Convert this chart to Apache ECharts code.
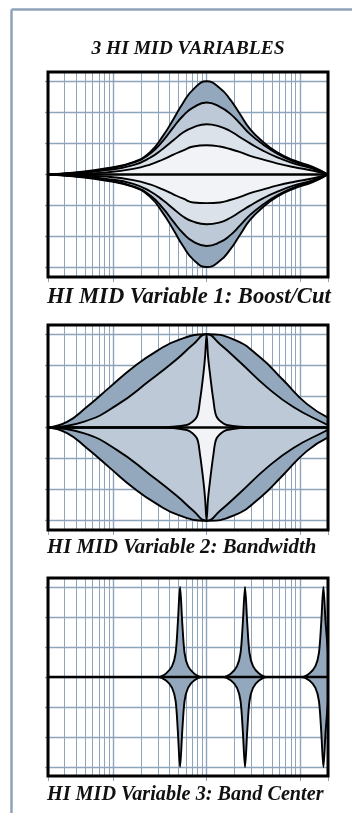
<!DOCTYPE html>
<html>
<head>
<meta charset="utf-8">
<script src="https://cdn.jsdelivr.net/npm/echarts@6/dist/echarts.min.js"></script>
<style>
  html, body { margin: 0; padding: 0; background: #fff; }
  #chart { width: 352px; height: 813px; }
</style>
</head>
<body>
<div id="chart"></div>
<script>
// ---- axis grid values ----
const MINOR_FREQS = [30, 40, 50, 60, 70, 80, 90, 200, 300, 400, 500, 600, 700, 800, 900,
  2000, 3000, 4000, 5000, 6000, 7000, 8000, 9000];
const DECADE_FREQS = [20, 100, 1000, 10000, 20000];
const DB_TICKS = [-15, -10, -5, 0, 5, 10, 15];

const TITLE = '3 HI MID VARIABLES';
const CAPTIONS = [
  'HI MID Variable 1: Boost/Cut',
  'HI MID Variable 2: Bandwidth',
  'HI MID Variable 3: Band Center'
];

// ---- panel 1: boost / cut at 1 kHz (Hz, dB) ----
const P1_FREQ = [20, 37, 85, 164, 248, 344, 441, 564, 721, 1000, 1390, 1786, 2286, 2925, 4062, 5651, 8515, 13950, 20000];
const P1_BOOST_15 = [0, 0.3, 1.0, 2.0, 3.6, 6.3, 8.9, 11.6, 13.7, 15, 13.9, 12.1, 9.7, 7.3, 5.2, 3.6, 2.3, 1.2, 0];
const P1_BOOST_11 = [0, 0.25, 0.9, 1.9, 3.35, 5.5, 7.6, 9.5, 10.8, 11.6, 10.9, 9.8, 8.2, 6.5, 4.8, 3.4, 2.1, 1.0, 0];
const P1_BOOST_8 = [0, 0.2, 0.7, 1.5, 2.7, 4.2, 5.5, 6.8, 7.6, 8.1, 7.7, 7.0, 6.0, 5.0, 3.8, 2.8, 1.8, 0.9, 0];
const P1_BOOST_4 = [0, 0.1, 0.35, 0.9, 1.6, 2.45, 3.2, 3.9, 4.5, 4.7, 4.5, 4.1, 3.6, 3.0, 2.4, 1.8, 1.2, 0.6, 0];
const P1_CUT_15 = [0, -0.3, -1.0, -2.0, -3.6, -6.3, -8.9, -11.6, -13.7, -14.9, -13.9, -12.1, -9.7, -7.3, -5.2, -3.6, -2.3, -1.2, 0];
const P1_CUT_11 = [0, -0.25, -0.9, -1.9, -3.35, -5.5, -7.6, -9.5, -10.8, -11.5, -10.9, -9.8, -8.2, -6.5, -4.8, -3.4, -2.1, -1.0, 0];
const P1_CUT_8 = [0, -0.2, -0.7, -1.5, -2.7, -4.2, -5.5, -6.8, -7.6, -8.0, -7.7, -7.0, -6.0, -5.0, -3.8, -2.8, -1.8, -0.9, 0];
const P1_CUT_4 = [0, -0.1, -0.35, -0.9, -1.6, -2.45, -3.2, -3.9, -4.5, -4.6, -4.5, -4.1, -3.6, -3.0, -2.4, -1.8, -1.2, -0.6, 0];

// ---- panel 2: bandwidth (Hz, dB) ----
const P2_WIDE_FREQ = [20, 32, 52, 92, 164, 292, 520, 1000, 1937, 3742, 6652, 11850, 20000];
const P2_WIDE_UP = [0, 0.9, 3.3, 6.5, 9.7, 12.3, 14.2, 15, 14.2, 11.3, 7.6, 3.8, 1.6];
const P2_WIDE_DOWN = [0, -0.9, -3.3, -6.5, -9.7, -12.3, -14.2, -15, -14.2, -11.3, -7.6, -3.8, -1.6];
const P2_MID_FREQ = [20, 48, 109, 248, 479, 721, 1000, 1395, 2286, 4417, 8515, 18620, 20000];
const P2_MID_UP = [0, 0.9, 3.6, 7.6, 11, 13.4, 15, 13.4, 10.5, 6.5, 3.3, 0.6, 0.4];
const P2_MID_DOWN = [0, -0.9, -3.6, -7.6, -11, -13.4, -15, -13.4, -10.5, -6.5, -3.3, -0.6, -0.4];
const P2_NARROW_FREQ = [20, 269, 614, 785, 851, 924, 965, 1000, 1036, 1089, 1183, 1285, 1645, 3700, 20000];
const P2_NARROW_UP = [0, 0, 0.4, 1.7, 4.4, 8.6, 11.5, 15, 11.5, 8.6, 4.4, 1.7, 0.4, 0, 0];
const P2_NARROW_DOWN = [0, 0, -0.4, -1.7, -4.4, -8.6, -11.5, -15, -11.5, -8.6, -4.4, -1.7, -0.4, 0, 0];

// ---- panel 3: band center sweep (Hz, dB) ----
const P3_FREQ = [20, 302, 368, 427, 466, 492, 520, 549, 581, 633, 734, 894,
  1501, 1829, 2120, 2312, 2445, 2582, 2727, 2884, 3145, 3646, 4441,
  10384, 12649, 14663, 15989, 16913, 17860, 18860, 20000];
const P3_UP = [0, 0, 0.6, 1.8, 4, 9, 15, 9, 4, 1.8, 0.6, 0,
  0, 0.6, 1.8, 4, 9, 15, 9, 4, 1.8, 0.6, 0,
  0, 0.6, 1.8, 4, 9, 15, 9, 4];
const P3_DOWN = [0, 0, -0.6, -1.8, -4, -9, -15, -9, -4, -1.8, -0.6, 0,
  0, -0.6, -1.8, -4, -9, -15, -9, -4, -1.8, -0.6, 0,
  0, -0.6, -1.8, -4, -9, -15, -9, -4];

const FLAT_FREQ = [20, 20000];
const FLAT = [0, 0];

// ---- styles ----
const GRID_COLOR = '#8ea4ba';
const FRAME_COLOR = '#8ea3b8';
const DARK = '#94a8bd';
const MID = '#bdc9d7';
const LIGHT = '#dbe2ea';
const PALE = '#f1f3f6';
const SERIF = '"Liberation Serif", "DejaVu Serif", serif';

const PANELS = [
  { top: 72, height: 205, caption: 297, font: 22.6 },
  { top: 325, height: 205, caption: 548, font: 20.8 },
  { top: 578, height: 198, caption: 795, font: 20.2 }
];
const BOX_LEFT = 48, BOX_WIDTH = 280;

const zip = (xs, ys) => xs.map((x, i) => [x, ys[i]]);

const grids = [], xAxes = [], yAxes = [], series = [];

PANELS.forEach((p, i) => {
  grids.push({ left: BOX_LEFT, top: p.top, width: BOX_WIDTH, height: p.height, containLabel: false });
  xAxes.push({
    gridIndex: i, type: 'log', logBase: 10, min: 20, max: 20000,
    axisLine: { show: false }, axisLabel: { show: false },
    axisTick: { show: false, customValues: MINOR_FREQS },
    splitLine: { show: true, lineStyle: { color: GRID_COLOR, width: 1 } }
  });
  xAxes.push({
    gridIndex: i, type: 'log', logBase: 10, min: 20, max: 20000, position: 'bottom',
    axisLine: { show: false }, axisLabel: { show: false },
    axisTick: { show: true, inside: false, length: 5, customValues: DECADE_FREQS, lineStyle: { color: GRID_COLOR, width: 1 } },
    splitLine: { show: true, lineStyle: { color: GRID_COLOR, width: 1.4 } }
  });
  yAxes.push({
    gridIndex: i, type: 'value', min: -16.5, max: 16.5,
    axisLine: { show: false }, axisLabel: { show: false },
    axisTick: { show: true, inside: false, length: 3, customValues: DB_TICKS, lineStyle: { color: GRID_COLOR, width: 1.4 } },
    splitLine: { show: true, lineStyle: { color: GRID_COLOR, width: 1.4 } }
  });
});

function fill(panel, xs, ys, color, smooth) {
  series.push({
    type: 'line', xAxisIndex: panel * 2, yAxisIndex: panel, data: zip(xs, ys),
    smooth: smooth || 0.5, symbol: 'none', silent: true, z: 2,
    lineStyle: { width: 0, opacity: 0 },
    areaStyle: { color: color, opacity: 1 }
  });
}
function curve(panel, xs, ys, width, smooth) {
  series.push({
    type: 'line', xAxisIndex: panel * 2, yAxisIndex: panel, data: zip(xs, ys),
    smooth: smooth || 0.5, symbol: 'none', silent: true, z: 3,
    lineStyle: { color: '#000', width: width || 1.9 }
  });
}

// panel 1
[[P1_BOOST_15, DARK], [P1_BOOST_11, MID], [P1_BOOST_8, LIGHT], [P1_BOOST_4, PALE],
 [P1_CUT_15, DARK], [P1_CUT_11, MID], [P1_CUT_8, LIGHT], [P1_CUT_4, PALE]]
  .forEach(([ys, c]) => fill(0, P1_FREQ, ys, c));
[P1_BOOST_15, P1_BOOST_11, P1_BOOST_8, P1_BOOST_4, P1_CUT_15, P1_CUT_11, P1_CUT_8, P1_CUT_4]
  .forEach(ys => curve(0, P1_FREQ, ys));
curve(0, FLAT_FREQ, FLAT, 2.6);

// panel 2
fill(1, P2_WIDE_FREQ, P2_WIDE_UP, DARK);
fill(1, P2_WIDE_FREQ, P2_WIDE_DOWN, DARK);
fill(1, P2_MID_FREQ, P2_MID_UP, MID);
fill(1, P2_MID_FREQ, P2_MID_DOWN, MID);
fill(1, P2_NARROW_FREQ, P2_NARROW_UP, PALE, 0.3);
fill(1, P2_NARROW_FREQ, P2_NARROW_DOWN, PALE, 0.3);
curve(1, P2_WIDE_FREQ, P2_WIDE_UP);
curve(1, P2_WIDE_FREQ, P2_WIDE_DOWN);
curve(1, P2_MID_FREQ, P2_MID_UP);
curve(1, P2_MID_FREQ, P2_MID_DOWN);
curve(1, P2_NARROW_FREQ, P2_NARROW_UP, 1.9, 0.3);
curve(1, P2_NARROW_FREQ, P2_NARROW_DOWN, 1.9, 0.3);
curve(1, FLAT_FREQ, FLAT, 2.6);

// panel 3
fill(2, P3_FREQ, P3_UP, DARK, 0.3);
fill(2, P3_FREQ, P3_DOWN, DARK, 0.3);
curve(2, P3_FREQ, P3_UP, 1.9, 0.3);
curve(2, P3_FREQ, P3_DOWN, 1.9, 0.3);
curve(2, FLAT_FREQ, FLAT, 2.6);

// frame, boxes, text
const graphic = [
  { type: 'line', z: 100, shape: { x1: 11.5, y1: 9.5, x2: 352, y2: 9.5 }, style: { stroke: FRAME_COLOR, lineWidth: 2.5 } },
  { type: 'line', z: 100, shape: { x1: 11.5, y1: 9.5, x2: 11.5, y2: 813 }, style: { stroke: FRAME_COLOR, lineWidth: 2.5 } },
  { type: 'text', z: 100, x: 188, y: 49,
    style: { text: TITLE, font: 'italic bold 19.5px ' + SERIF, fill: '#111', align: 'center', verticalAlign: 'middle' } }
];
PANELS.forEach((p, i) => {
  graphic.push({ type: 'rect', z: 100, shape: { x: BOX_LEFT, y: p.top, width: BOX_WIDTH, height: p.height },
    style: { fill: 'none', stroke: '#000', lineWidth: 3 } });
  graphic.push({ type: 'text', z: 100, x: 47, y: p.caption,
    style: { text: CAPTIONS[i], font: 'italic bold ' + p.font + 'px ' + SERIF, fill: '#111', align: 'left', verticalAlign: 'middle' } });
});

const chart = echarts.init(document.getElementById('chart'));
chart.setOption({
  animation: false,
  backgroundColor: '#fff',
  grid: grids,
  xAxis: xAxes,
  yAxis: yAxes,
  series: series,
  graphic: graphic
});
</script>
</body>
</html>
